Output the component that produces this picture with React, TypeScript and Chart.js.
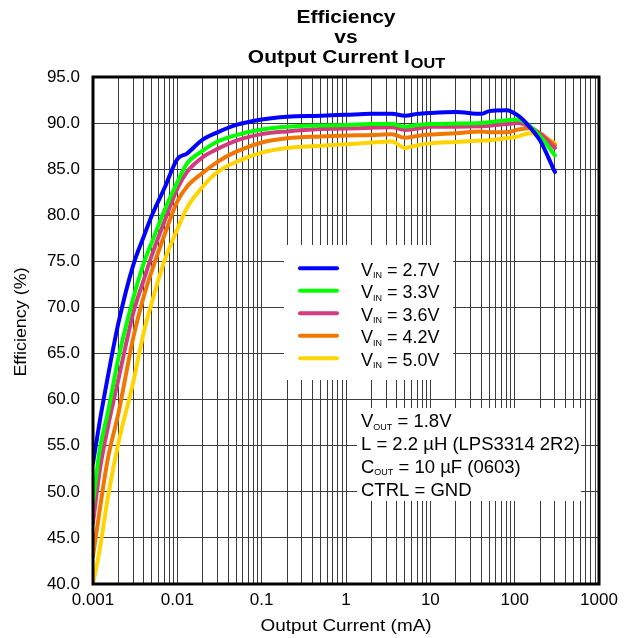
import { useEffect, useRef } from 'react';
import { Chart, registerables } from 'chart.js';

Chart.register(...registerables);

// Output current (mA) at which efficiency was sampled
const CURRENT_MA = [
  0.001, 0.0012, 0.0015, 0.002, 0.003, 0.004, 0.005, 0.007, 0.01, 0.013,
  0.02, 0.03, 0.05, 0.1, 0.2, 0.5, 1, 2, 3.5, 5,
  7, 10, 20, 40, 50, 80, 110, 150, 200, 300,
];

// Efficiency (%) per input voltage
const EFF_VIN_2V7 = [
  53.1, 57.6, 62.5, 68.3, 74.6, 77.7, 80.0, 82.9, 86.1, 86.7,
  88.2, 89.0, 89.8, 90.4, 90.7, 90.8, 90.9, 91.0, 91.0, 90.8,
  91.0, 91.1, 91.2, 91.0, 91.3, 91.4, 90.8, 89.6, 88.1, 84.7,
];
const EFF_VIN_3V3 = [
  48.8, 54.5, 58.6, 64.5, 71.0, 74.8, 77.1, 80.5, 83.6, 85.6,
  87.0, 88.0, 88.7, 89.3, 89.6, 89.75, 89.8, 89.9, 89.9, 89.6,
  89.8, 89.9, 89.95, 90.0, 90.1, 90.3, 90.4, 89.7, 88.6, 86.5,
];
const EFF_VIN_3V6 = [
  46.6, 52.3, 57.0, 62.2, 69.4, 73.0, 75.7, 79.3, 82.9, 84.7,
  86.3, 87.2, 88.1, 88.8, 89.1, 89.35, 89.4, 89.5, 89.55, 89.25,
  89.4, 89.6, 89.6, 89.65, 89.7, 89.9, 90.0, 89.6, 88.85, 87.3,
];
const EFF_VIN_4V2 = [
  43.0, 48.0, 53.6, 58.5, 66.7, 71.2, 74.0, 77.8, 81.5, 83.1,
  84.6, 85.8, 86.9, 87.9, 88.35, 88.55, 88.65, 88.7, 88.8, 88.4,
  88.6, 88.75, 88.9, 89.1, 89.0, 89.0, 89.3, 89.45, 88.9, 87.6,
];
const EFF_VIN_5V0 = [
  40.0, 43.7, 49.4, 55.3, 61.9, 67.3, 70.6, 75.0, 78.5, 80.8,
  83.1, 84.7, 85.8, 86.8, 87.3, 87.55, 87.7, 87.9, 88.0, 87.3,
  87.6, 87.8, 87.95, 88.1, 88.15, 88.35, 88.55, 88.9, 88.7, 87.8,
];

const SERIES_VALUES = [EFF_VIN_2V7, EFF_VIN_3V3, EFF_VIN_3V6, EFF_VIN_4V2, EFF_VIN_5V0];
const VIN_LABELS = ['2.7V', '3.3V', '3.6V', '4.2V', '5.0V'];
const SERIES_COLORS = ['#0000ff', '#00ff00', '#d23c7c', '#f07800', '#ffd400'];

// Axis ranges and tick labels
const X_MIN = 0.001;
const X_MAX = 1000;
const X_TICK_LABELS = ['0.001', '0.01', '0.1', '1', '10', '100', '1000'];
const Y_MIN = 40;
const Y_MAX = 95;
const Y_STEP = 5;

const CONDITIONS = [
  { main: 'V', sub: 'OUT', rest: ' = 1.8V' },
  { main: 'L = 2.2 µH (LPS3314 2R2)', sub: '', rest: '' },
  { main: 'C', sub: 'OUT', rest: ' = 10 µF (0603)' },
  { main: 'CTRL = GND', sub: '', rest: '' },
];

const FONT = "'Liberation Sans', Arial, Helvetica, sans-serif";
const GRID_COLOR = '#3c3c3c';

function textStretched(
  ctx: CanvasRenderingContext2D,
  text: string,
  x: number,
  y: number,
  font: string,
  sx: number,
  align: CanvasTextAlign = 'left',
) {
  ctx.save();
  ctx.font = font;
  ctx.translate(x, y);
  ctx.scale(sx, 1);
  ctx.textAlign = align;
  ctx.fillText(text, 0, 0);
  ctx.restore();
}

function textWithSub(
  ctx: CanvasRenderingContext2D,
  x: number,
  y: number,
  main: string,
  sub: string,
  rest: string,
  size: number,
  subSize: number,
) {
  ctx.save();
  ctx.fillStyle = '#000';
  ctx.textAlign = 'left';
  ctx.textBaseline = 'alphabetic';
  ctx.font = `${size}px ${FONT}`;
  ctx.fillText(main, x, y);
  let cx = x + ctx.measureText(main).width;
  if (sub) {
    ctx.font = `${subSize}px ${FONT}`;
    ctx.fillText(sub, cx, y + 2.5);
    cx += ctx.measureText(sub).width;
  }
  if (rest) {
    ctx.font = `${size}px ${FONT}`;
    ctx.fillText(rest, cx, y);
  }
  ctx.restore();
}

const decorations = {
  id: 'decorations',
  beforeDatasetsDraw(chart: Chart) {
    const { ctx, chartArea: a } = chart;
    ctx.save();
    ctx.fillStyle = '#fff';
    // legend panel
    ctx.fillRect(a.left + 191, a.top + 168, 169, 135);
    // operating-conditions panel
    ctx.fillRect(a.left + 264, a.top + 331, 224, 93);
    ctx.restore();
  },
  afterDraw(chart: Chart) {
    const { ctx, chartArea: a } = chart;
    const cx = (a.left + a.right) / 2;

    ctx.save();
    // plot frame
    ctx.strokeStyle = '#000';
    ctx.lineWidth = 3;
    ctx.strokeRect(a.left, a.top, a.right - a.left, a.bottom - a.top);

    // title
    ctx.fillStyle = '#000';
    ctx.textBaseline = 'alphabetic';
    const sx = 1.165;
    textStretched(ctx, 'Efficiency', cx, 22.7, `bold 18px ${FONT}`, sx, 'center');
    textStretched(ctx, 'vs', cx, 43.3, `bold 18px ${FONT}`, sx, 'center');
    ctx.font = `bold 18px ${FONT}`;
    const t1 = 'Output Current I';
    const w1 = ctx.measureText(t1).width * sx;
    ctx.font = `bold 14px ${FONT}`;
    const w2 = ctx.measureText('OUT').width * sx;
    const startX = cx - (w1 + w2) / 2;
    textStretched(ctx, t1, startX, 63.3, `bold 18px ${FONT}`, sx, 'left');
    textStretched(ctx, 'OUT', startX + w1 + 1, 68.3, `bold 14px ${FONT}`, sx, 'left');

    // axis titles
    textStretched(ctx, 'Output Current (mA)', cx, 630.5, `16px ${FONT}`, 1.18, 'center');
    ctx.save();
    ctx.translate(22, 322);
    ctx.rotate(-Math.PI / 2);
    ctx.textBaseline = 'middle';
    textStretched(ctx, 'Efficiency (%)', 0, 0, `16px ${FONT}`, 1.12, 'center');
    ctx.restore();

    // legend
    const lx0 = a.left + 207;
    const lx1 = a.left + 244;
    VIN_LABELS.forEach((v, i) => {
      const y = a.top + 191.3 + i * 22.5;
      ctx.strokeStyle = SERIES_COLORS[i];
      ctx.lineWidth = 4;
      ctx.lineCap = 'round';
      ctx.beginPath();
      ctx.moveTo(lx0, y);
      ctx.lineTo(lx1, y);
      ctx.stroke();
      textWithSub(ctx, a.left + 268, y + 7.5, 'V', 'IN', ` = ${v}`, 18, 9);
    });

    // operating conditions
    CONDITIONS.forEach((c, i) => {
      textWithSub(ctx, a.left + 268, a.top + 350.3 + i * 22.8, c.main, c.sub, c.rest, 18.5, 9);
    });
    ctx.restore();
  },
};

export default function App() {
  const canvasRef = useRef<HTMLCanvasElement | null>(null);

  useEffect(() => {
    const canvas = canvasRef.current;
    if (!canvas) return;

    const gridValues: number[] = [];
    for (let e = Math.log10(X_MIN); e < Math.log10(X_MAX); e++) {
      for (let m = 1; m <= 9; m++) gridValues.push(m * Math.pow(10, e));
    }
    gridValues.push(X_MAX);

    const chart = new Chart(canvas, {
      type: 'line',
      data: {
        datasets: SERIES_VALUES.map((vals, i) => ({
          label: `VIN = ${VIN_LABELS[i]}`,
          data: CURRENT_MA.map((x, j) => ({ x, y: vals[j] })),
          borderColor: SERIES_COLORS[i],
          backgroundColor: SERIES_COLORS[i],
          borderWidth: 4,
          pointRadius: 0,
          cubicInterpolationMode: 'monotone' as const,
          fill: false,
          borderJoinStyle: 'round' as const,
          borderCapStyle: 'round' as const,
        })),
      },
      options: {
        responsive: false,
        animation: false,
        layout: { padding: { top: 77, right: 31, left: 0, bottom: 0 } },
        plugins: {
          legend: { display: false },
          title: { display: false },
          tooltip: { enabled: false },
        },
        scales: {
          x: {
            type: 'logarithmic',
            min: X_MIN,
            max: X_MAX,
            afterBuildTicks: (scale: any) => {
              scale.ticks = gridValues.map((v) => ({ value: v }));
            },
            afterFit: (scale: any) => {
              scale.height = 54;
            },
            ticks: {
              autoSkip: false,
              maxRotation: 0,
              padding: 6,
              color: '#000',
              font: { family: FONT, size: 17 },
              callback: (value: any) => {
                const e = Math.log10(Number(value));
                const r = Math.round(e);
                return Math.abs(e - r) < 1e-6 ? X_TICK_LABELS[r + 3] : '';
              },
            },
            grid: { color: GRID_COLOR, lineWidth: 1, drawTicks: false },
            border: { display: false },
          },
          y: {
            type: 'linear',
            min: Y_MIN,
            max: Y_MAX,
            afterFit: (scale: any) => {
              scale.width = 93;
            },
            ticks: {
              stepSize: Y_STEP,
              padding: 13,
              color: '#000',
              font: { family: FONT, size: 17 },
              callback: (value: any) => Number(value).toFixed(1),
            },
            grid: { color: GRID_COLOR, lineWidth: 1, drawTicks: false },
            border: { display: false },
          },
        },
      },
      plugins: [decorations],
    });

    return () => chart.destroy();
  }, []);

  return (
    <div style={{ position: 'fixed', left: 0, top: 0, width: 630, height: 638, background: '#fff' }}>
      <canvas ref={canvasRef} width={630} height={638} style={{ display: 'block' }} />
    </div>
  );
}
